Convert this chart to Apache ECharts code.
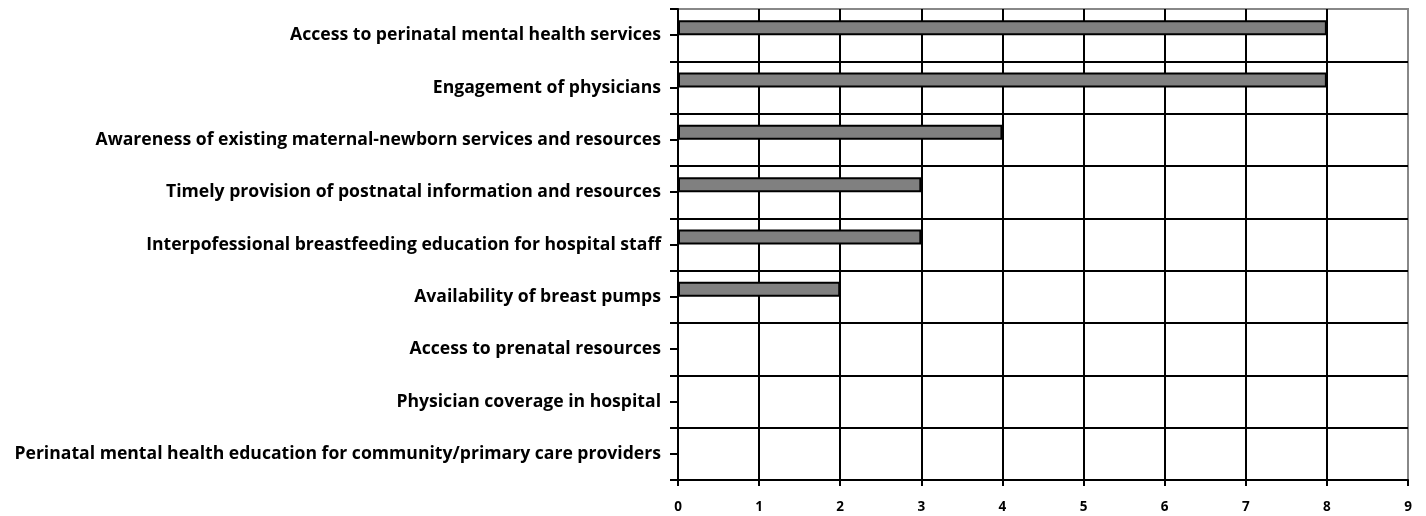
<!DOCTYPE html>
<html><head><meta charset="utf-8">
<script src="https://cdn.jsdelivr.net/npm/echarts@6/dist/echarts.min.js"></script>
<style>html,body{margin:0;padding:0;background:#fff}#c{width:1426px;height:516px}</style>
</head><body><div id="c"></div>
<script>
const categories = [
  "Access to perinatal mental health services",
  "Engagement of physicians",
  "Awareness of existing maternal-newborn services and resources",
  "Timely provision of postnatal information and resources",
  "Interpofessional breastfeeding education for hospital staff",
  "Availability of breast pumps",
  "Access to prenatal resources",
  "Physician coverage in hospital",
  "Perinatal mental health education for community/primary care providers"
];
const values = [8, 8, 4, 3, 3, 2, 0, 0, 0];
const emptySeries = [null, null, null, null, null, null, null, null, null];
const xTicks = [0, 1, 2, 3, 4, 5, 6, 7, 8, 9];

const chart = echarts.init(document.getElementById('c'));
const fontFam = '"Open Sans", Lato, sans-serif';
chart.setOption({
  animation: false,
  grid: {left: 678, right: 18, top: 9, bottom: 36, outerBoundsMode: 'none', containLabel: false,
         show: true, borderColor: '#888', borderWidth: 2, backgroundColor: 'transparent'},
  xAxis: {
    type: 'value', min: xTicks[0], max: xTicks[xTicks.length - 1], interval: 1,
    axisLine: {show: true, lineStyle: {color: '#000', width: 2}},
    axisTick: {show: true, length: 6, lineStyle: {color: '#000', width: 2}},
    axisLabel: {color: '#000', fontFamily: fontFam, fontWeight: 'bold', fontSize: 13.5, margin: 20},
    splitLine: {show: true, showMinLine: false, showMaxLine: false, lineStyle: {color: '#000', width: 2}}
  },
  yAxis: [{
    type: 'category', data: categories, inverse: true,
    axisLine: {show: true, lineStyle: {color: '#000', width: 2}},
    axisTick: {show: true, alignWithLabel: true, length: 8, lineStyle: {color: '#000', width: 2}},
    axisLabel: {color: '#000', fontFamily: fontFam, fontWeight: 'bold', fontSize: 17.6, margin: 17},
    splitLine: {show: false}
  }, {
    type: 'category', data: categories, inverse: true, position: 'left',
    axisLine: {show: false},
    axisTick: {show: true, length: 8, lineStyle: {color: '#000', width: 2}},
    axisLabel: {show: false},
    splitLine: {show: true, showMinLine: false, showMaxLine: false, lineStyle: {color: '#000', width: 2}}
  }],
  series: [{
    type: 'bar', yAxisIndex: 0, data: values, barWidth: 15, barGap: '0%',
    itemStyle: {color: '#808080', borderColor: '#000', borderWidth: 2}
  }, {
    type: 'bar', yAxisIndex: 0, data: emptySeries, barWidth: 15, barGap: '0%',
    itemStyle: {color: '#808080', borderColor: '#000', borderWidth: 2}
  }]
});
</script></body></html>
